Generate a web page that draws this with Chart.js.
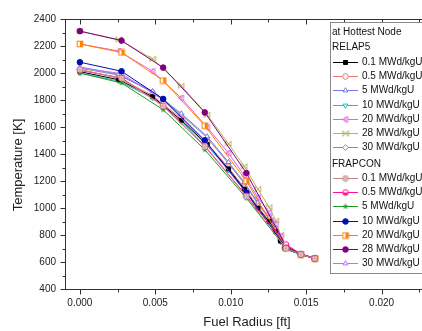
<!DOCTYPE html>
<html><head><meta charset="utf-8">
<script src="https://cdn.jsdelivr.net/npm/chart.js@4"></script>
<style>html,body{margin:0;padding:0;overflow:hidden;background:#fff;width:422px;height:331px}canvas{display:block}</style>
</head><body><canvas id="c" width="462" height="331"></canvas>
<script>
// ---------- data ----------
const burnupLabels = ['0.1 MWd/kgU','0.5 MWd/kgU','5 MWd/kgU','10 MWd/kgU','20 MWd/kgU','28 MWd/kgU','30 MWd/kgU'];

const relapRadius = [0, 0.00257, 0.00482, 0.00672, 0.00844, 0.00985, 0.0109, 0.0118, 0.01255, 0.01298, 0.0133, 0.0136, 0.01465, 0.01557];
const relap_0_1 = [2010, 1950, 1825, 1650, 1470, 1290, 1140, 1000, 900, 825, 755, 700, 655, 625];
const relap_0_5 = [2025, 1960, 1835, 1660, 1480, 1300, 1150, 1010, 905, 830, 760, 700, 655, 625];
const relap_5   = [2045, 1990, 1865, 1700, 1530, 1340, 1190, 1040, 930, 850, 770, 705, 658, 628];
const relap_10  = [2000, 1940, 1815, 1640, 1460, 1280, 1130, 995, 895, 820, 750, 695, 655, 625];
const relap_20  = [2215, 2163, 2013, 1815, 1597, 1407, 1240, 1078, 966, 880, 790, 715, 658, 628];
const relap_28  = [2310, 2248, 2105, 1906, 1691, 1476, 1308, 1140, 1006, 907, 800, 720, 658, 628];
const relap_30  = [2035, 1985, 1860, 1690, 1520, 1330, 1180, 1030, 920, 840, 765, 705, 658, 628];

const frapRadius = [0, 0.00276, 0.00552, 0.00828, 0.01104, 0.01366, 0.01465, 0.01557];
const frap_0_1 = [2025, 1960, 1755, 1455, 1085, 700, 655, 625];
const frap_0_5 = [2020, 1964, 1758, 1461, 1090, 730, 660, 628];
const frap_5   = [2000, 1926, 1728, 1432, 1073, 700, 655, 625];
const frap_10  = [2080, 2013, 1808, 1501, 1115, 705, 655, 625];
const frap_20  = [2215, 2152, 1944, 1610, 1200, 705, 655, 625];
const frap_28  = [2310, 2240, 2040, 1708, 1259, 720, 658, 628];
const frap_30  = [2040, 1995, 1800, 1495, 1110, 714, 658, 628];

const xTickValues = [0, 0.005, 0.010, 0.015, 0.020];
const xTickLabels = ['0.000', '0.005', '0.010', '0.015', '0.020'];
const yTickValues = [400, 600, 800, 1000, 1200, 1400, 1600, 1800, 2000, 2200, 2400];
const yTickLabels = ['400', '600', '800', '1000', '1200', '1400', '1600', '1800', '2000', '2200', '2400'];
const xTitle = 'Fuel Radius [ft]';
const yTitle = 'Temperature [K]';
const legendTitle = 'at Hottest Node';
const groupNames = ['RELAP5', 'FRAPCON'];

// ---------- styles ----------
const FONT = "'Liberation Sans', Arial, sans-serif";
const R = 2.8;
function mk(draw) {
  const c = document.createElement('canvas');
  c.width = 8; c.height = 8;
  const g = c.getContext('2d');
  g.lineWidth = 1;
  draw(g, 4, 2.8);
  return c;
}
function halfCircle(col) {
  return mk((g, c, r) => {
    g.beginPath(); g.arc(c, c, r, 0, Math.PI * 2); g.fillStyle = '#fff'; g.fill();
    g.beginPath(); g.arc(c, c, r, 0, Math.PI); g.closePath(); g.fillStyle = col; g.fill();
    g.beginPath(); g.arc(c, c, r, 0, Math.PI * 2); g.strokeStyle = col; g.stroke();
  });
}
function halfSquare(col) {
  return mk((g, c, r) => {
    g.fillStyle = '#fff'; g.fillRect(c - r, c - r, 2 * r, 2 * r);
    g.fillStyle = col; g.fillRect(c, c - r, r, 2 * r);
    g.strokeStyle = col; g.strokeRect(c - r, c - r, 2 * r, 2 * r);
  });
}
function circlePlus(col) {
  return mk((g, c, r) => {
    g.strokeStyle = col;
    g.beginPath(); g.arc(c, c, r, 0, Math.PI * 2); g.fillStyle = '#fff'; g.fill(); g.stroke();
    g.beginPath(); g.moveTo(c - r, c); g.lineTo(c + r, c); g.moveTo(c, c - r); g.lineTo(c, c + r); g.stroke();
  });
}
function bowtie(col) {
  return mk((g, c, r) => {
    g.strokeStyle = col;
    g.beginPath(); g.moveTo(c - r, c - r); g.lineTo(c + r, c + r); g.lineTo(c + r, c - r); g.lineTo(c - r, c + r); g.closePath(); g.stroke();
  });
}
function leftTriBar(col) {
  return mk((g, c, r) => {
    g.strokeStyle = col; g.fillStyle = '#fff';
    g.beginPath(); g.moveTo(c - r, c); g.lineTo(c + r * 0.8, c - r); g.lineTo(c + r * 0.8, c + r); g.closePath(); g.fill(); g.stroke();
    g.beginPath(); g.moveTo(c, c - r); g.lineTo(c, c + r); g.stroke();
  });
}
function starFilled(col) {
  return mk((g, c, r) => {
    g.fillStyle = col; g.beginPath();
    for (let i = 0; i < 10; i++) {
      const a = -Math.PI / 2 + i * Math.PI / 5;
      const rr = i % 2 ? r * 0.45 : r + 0.6;
      g.lineTo(c + rr * Math.cos(a), c + rr * Math.sin(a));
    }
    g.closePath(); g.fill();
  });
}

function pts(xs, ys) { return ys.map((y, i) => ({ x: xs[i], y: y })); }

function ds(label, group, xs, ys, col, style, fill, rot) {
  return {
    label: label, group: group, data: pts(xs, ys), showLine: true,
    borderColor: col, backgroundColor: fill, borderWidth: 1,
    pointStyle: style, pointRotation: rot || 0, pointRadius: R, pointBorderWidth: 1,
    pointBorderColor: col, pointBackgroundColor: fill
  };
}

const frapSets = [
  ds(burnupLabels[0], 1, frapRadius, frap_0_1, '#c08888', circlePlus('#c08888'), '#fff'),
  ds(burnupLabels[1], 1, frapRadius, frap_0_5, '#ff1493', halfCircle('#ff1493'), '#fff'),
  ds(burnupLabels[2], 1, frapRadius, frap_5, '#1e9a1e', starFilled('#1e9a1e'), '#1e9a1e'),
  ds(burnupLabels[3], 1, frapRadius, frap_10, '#0010b0', 'circle', '#0010b0'),
  ds(burnupLabels[4], 1, frapRadius, frap_20, '#ff8000', halfSquare('#ff8000'), '#fff'),
  ds(burnupLabels[5], 1, frapRadius, frap_28, '#800080', 'circle', '#800080'),
  ds(burnupLabels[6], 1, frapRadius, frap_30, '#c070f0', 'triangle', '#fff'),
];
const relapSets = [
  ds(burnupLabels[0], 0, relapRadius, relap_0_1, '#000000', 'rect', '#000000'),
  ds(burnupLabels[1], 0, relapRadius, relap_0_5, '#e87878', 'circle', '#fff'),
  ds(burnupLabels[2], 0, relapRadius, relap_5, '#7878e0', 'triangle', '#fff'),
  ds(burnupLabels[3], 0, relapRadius, relap_10, '#30b8b8', 'triangle', '#fff', 180),
  ds(burnupLabels[4], 0, relapRadius, relap_20, '#e060e0', leftTriBar('#e060e0'), '#fff'),
  ds(burnupLabels[5], 0, relapRadius, relap_28, '#b4b45a', bowtie('#b4b45a'), '#fff'),
  ds(burnupLabels[6], 0, relapRadius, relap_30, '#8a8aaa', 'rectRot', '#fff'),
];
// FRAPCON listed first so it is drawn on top
const datasets = frapSets.concat(relapSets);

const PX_PER_UNIT = 15200;
const xMin = -15 / PX_PER_UNIT;
const xMax = 0.025;

const framePlugin = {
  id: 'frame',
  afterDraw(chart) {
    const ctx = chart.ctx, a = chart.chartArea;
    const xs = chart.scales.x, ys = chart.scales.y;
    const L = Math.round(a.left) + 0.5, T = Math.round(a.top) + 0.5, B = Math.round(a.bottom) + 0.5;
    ctx.save();
    ctx.strokeStyle = '#333'; ctx.lineWidth = 1;
    ctx.beginPath();
    ctx.moveTo(L, T); ctx.lineTo(a.right, T);
    ctx.moveTo(Math.round(a.right) + 0.5, T); ctx.lineTo(Math.round(a.right) + 0.5, B);
    for (let v = 0; v <= xMax + 1e-9; v += 0.0025) {
      const px = Math.round(xs.getPixelForValue(v)) + 0.5;
      const major = Math.abs(v / 0.005 - Math.round(v / 0.005)) < 1e-6;
      const len = major ? 5 : 3;
      ctx.moveTo(px, B); ctx.lineTo(px, B + len);
      ctx.moveTo(px, T); ctx.lineTo(px, T + len);
    }
    for (let v = 400; v <= 2400; v += 100) {
      const py = Math.round(ys.getPixelForValue(v)) + 0.5;
      const len = (v % 200 === 0) ? 5 : 3;
      ctx.moveTo(L, py); ctx.lineTo(L - len, py);
    }
    ctx.stroke();
    // axis titles
    ctx.fillStyle = '#222';
    ctx.font = '13px ' + FONT;
    ctx.textAlign = 'center'; ctx.textBaseline = 'middle';
    ctx.fillText(xTitle, 247, 322);
    ctx.translate(18, 165); ctx.rotate(-Math.PI / 2);
    ctx.fillText(yTitle, 0, 0);
    ctx.restore();
  }
};

const legendPlugin = {
  id: 'legendBox',
  afterDraw(chart) {
    const ctx = chart.ctx;
    ctx.save();
    ctx.fillStyle = '#fff';
    ctx.fillRect(330.5, 22.5, 130, 251);
    ctx.strokeStyle = '#888'; ctx.lineWidth = 1;
    ctx.strokeRect(330.5, 22.5, 130, 251);
    ctx.font = '10px ' + FONT;
    ctx.textBaseline = 'middle'; ctx.textAlign = 'left';
    ctx.fillStyle = '#111';
    ctx.fillText(legendTitle, 332, 32);
    ctx.fillText(groupNames[0], 332, 47);
    ctx.fillText(groupNames[1], 332, 164);
    const groups = [[relapSets, 62], [frapSets, 178]];
    groups.forEach(([sets, y0]) => {
      sets.forEach((d, i) => {
        const y = Math.round(y0 + i * 14.2) + 0.5;
        ctx.strokeStyle = d.borderColor; ctx.lineWidth = 1;
        ctx.beginPath(); ctx.moveTo(333, y); ctx.lineTo(358, y); ctx.stroke();
        ctx.fillStyle = d.pointBackgroundColor; ctx.strokeStyle = d.pointBorderColor;
        Chart.helpers.drawPoint(ctx, { pointStyle: d.pointStyle, rotation: d.pointRotation, radius: R, borderWidth: 1 }, 345.5, y);
        ctx.fillStyle = '#111';
        ctx.fillText(d.label, 362, y);
      });
    });
    ctx.restore();
  }
};

new Chart(document.getElementById('c'), {
  type: 'scatter',
  data: { datasets: datasets },
  options: {
    responsive: false, animation: false, devicePixelRatio: 1,
    layout: { padding: { left: 0, top: 19, right: 2, bottom: 0 } },
    plugins: { legend: { display: false }, tooltip: { enabled: false } },
    scales: {
      x: {
        type: 'linear', min: xMin, max: xMax,
        afterBuildTicks: s => { s.ticks = xTickValues.map(v => ({ value: v })); },
        afterFit: s => { s.height = 42; },
        ticks: { callback: (v, i) => xTickLabels[i], padding: 8, font: { family: FONT, size: 10 }, color: '#222', maxRotation: 0, autoSkip: false },
        grid: { display: true, drawOnChartArea: false, drawTicks: false, color: 'rgba(0,0,0,0)' },
        border: { display: true, color: '#333', width: 1 }
      },
      y: {
        type: 'linear', min: 400, max: 2400,
        afterBuildTicks: s => { s.ticks = yTickValues.map(v => ({ value: v })); },
        afterFit: s => { s.width = 65; },
        ticks: { callback: (v, i) => yTickLabels[i], padding: 9, font: { family: FONT, size: 10 }, color: '#222', autoSkip: false },
        grid: { display: true, drawOnChartArea: false, drawTicks: false, color: 'rgba(0,0,0,0)' },
        border: { display: true, color: '#333', width: 1 }
      }
    }
  },
  plugins: [framePlugin, legendPlugin]
});
</script>
</body></html>
